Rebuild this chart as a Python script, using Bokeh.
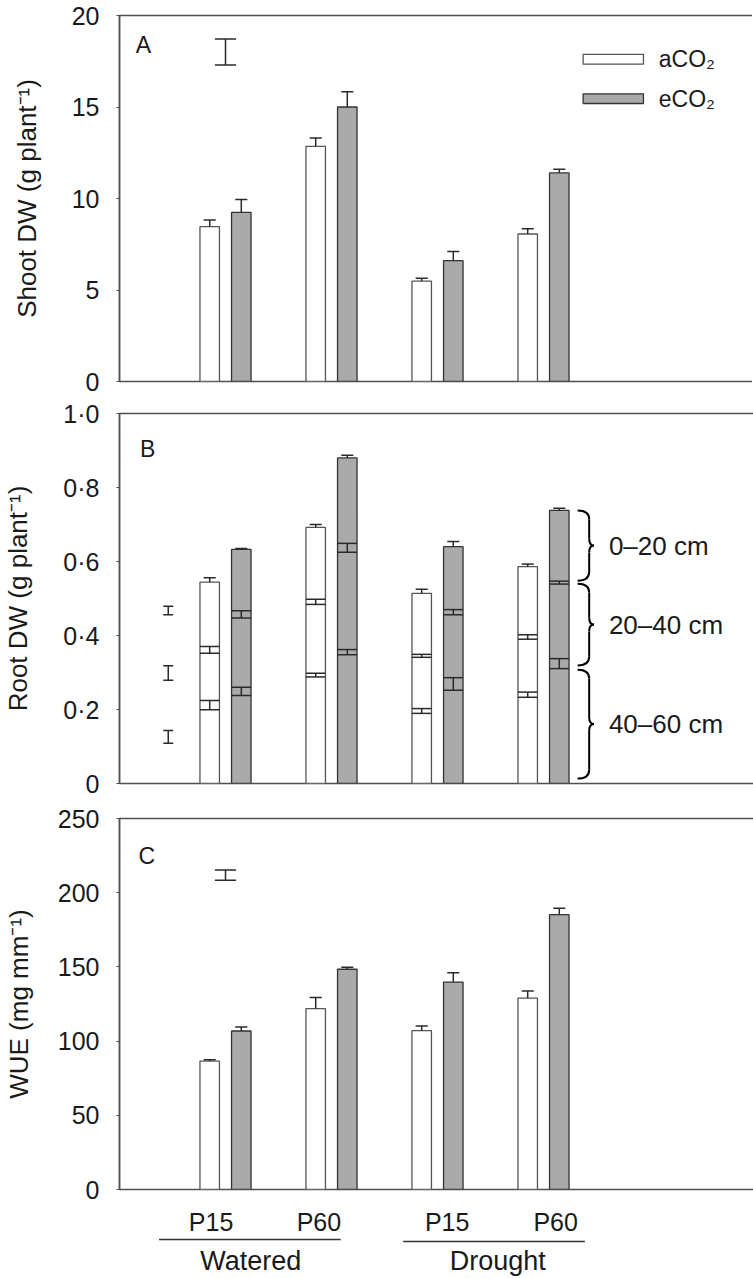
import numpy as np
from bokeh.plotting import figure
from bokeh.layouts import column
from bokeh.models import Range1d, FixedTicker, CustomJSTickFormatter
from bokeh.embed import file_html
from bokeh.resources import INLINE
from bokeh.core.properties import value

FONT = "Liberation Sans"
AXIS_COL = "#505050"
TEXT_COL = "#1a1a1a"
GRAY = "#aaaaaa"
ERR_COL = "#2a2a2a"

# ---------------- data ----------------
water_regime = ["Watered", "Drought"]
p_level = ["P15", "P60", "P15", "P60"]
co2_labels = ["aCO₂", "eCO₂"]

# Panel A: shoot dry weight (g plant-1)
shoot_a = [8.46, 12.85, 5.48, 8.06]
shoot_a_se = [0.36, 0.45, 0.16, 0.29]
shoot_e = [9.24, 15.00, 6.60, 11.40]
shoot_e_se = [0.71, 0.83, 0.50, 0.20]
shoot_lsd = 1.42

# Panel B: root dry weight by depth layer (g plant-1)
root_a_4060 = [0.212, 0.293, 0.196, 0.240]
root_a_2040 = [0.149, 0.198, 0.149, 0.156]
root_a_020 = [0.183, 0.201, 0.169, 0.190]
root_a_se_4060 = [0.0125, 0.005, 0.0065, 0.007]
root_a_se_2040 = [0.009, 0.007, 0.004, 0.006]
root_a_se_020 = [0.012, 0.008, 0.011, 0.007]
root_e_4060 = [0.249, 0.355, 0.269, 0.324]
root_e_2040 = [0.208, 0.282, 0.194, 0.219]
root_e_020 = [0.176, 0.243, 0.177, 0.195]
root_e_se_4060 = [0.011, 0.007, 0.017, 0.0135]
root_e_se_2040 = [0.010, 0.012, 0.007, 0.004]
root_e_se_020 = [0.002, 0.007, 0.014, 0.006]
root_lsd = [0.034, 0.039, 0.023]          # 40-60, 20-40, 0-20 cm
depth_labels = ["40–60 cm", "20–40 cm", "0–20 cm"]

# Panel C: water use efficiency (mg mm-1)
wue_a = [86.5, 121.9, 107.0, 129.0]
wue_a_se = [0.9, 7.4, 3.2, 4.7]
wue_e = [106.8, 148.4, 139.8, 185.2]
wue_e_se = [2.7, 1.3, 6.3, 4.3]
wue_lsd = 6.9

# ---------------- layout constants ----------------
UNIT = 106.0                 # px per group step
GX = np.arange(1, 5)         # group centres
OFF = 0.149
BW = 0.184
CAP = 0.057


def make_fig(frame_w, frame_h, y_end, left, right, top, bottom, x_range=None):
    xr = x_range if x_range is not None else Range1d(0, frame_w / UNIT)
    p = figure(frame_width=frame_w, frame_height=frame_h, x_range=xr,
               y_range=Range1d(0, y_end), min_border_left=left,
               min_border_right=right, min_border_top=top,
               min_border_bottom=bottom, output_backend="svg",
               toolbar_location=None)
    p.xaxis.visible = False
    p.xgrid.visible = False
    p.ygrid.visible = False
    p.outline_line_color = AXIS_COL
    p.outline_line_width = 1.5
    p.outline_line_alpha = 1.0
    p.background_fill_color = "white"
    p.border_fill_color = "white"
    return p


def style_y(p, ticks, label, standoff, formatter=None):
    ax = p.yaxis[0]
    ax.ticker = FixedTicker(ticks=ticks, minor_ticks=[])
    if formatter is not None:
        ax.formatter = formatter
    ax.axis_label = label
    ax.axis_label_text_font = FONT
    ax.axis_label_text_font_size = "26px"
    ax.axis_label_text_font_style = "normal"
    ax.axis_label_text_color = TEXT_COL
    ax.axis_label_standoff = standoff
    ax.major_label_text_font = FONT
    ax.major_label_text_font_size = "25px"
    ax.major_label_text_color = TEXT_COL
    ax.major_label_standoff = 17
    ax.axis_line_color = AXIS_COL
    ax.axis_line_width = 1.5
    ax.major_tick_line_color = AXIS_COL
    ax.major_tick_line_width = 1.2
    ax.major_tick_in = 0
    ax.major_tick_out = 3
    ax.minor_tick_line_color = None


def simple_bars(p, vals_a, se_a, vals_e, se_e):
    for vals, se, dx, fill, lc in ((vals_a, se_a, -OFF, "white", "#555555"),
                                   (vals_e, se_e, OFF, GRAY, "#333333")):
        x = GX + dx
        v = np.array(vals)
        s = np.array(se)
        p.vbar(x=x, width=BW, bottom=0, top=v, fill_color=fill,
               line_color=lc, line_width=1.3)
        p.segment(x0=x, y0=v, x1=x, y1=v + s, line_color=ERR_COL, line_width=1.5)
        p.segment(x0=x - CAP, y0=v + s, x1=x + CAP, y1=v + s,
                  line_color=ERR_COL, line_width=1.5)


def lsd_bar(p, x, yc, lsd, half_cap):
    x = np.atleast_1d(np.array(x, dtype=float))
    yc = np.atleast_1d(np.array(yc, dtype=float))
    h = np.atleast_1d(np.array(lsd, dtype=float)) / 2
    p.segment(x0=x, y0=yc - h, x1=x, y1=yc + h, line_color=ERR_COL, line_width=1.5)
    for sgn in (-1, 1):
        p.segment(x0=x - half_cap, y0=yc + sgn * h, x1=x + half_cap,
                  y1=yc + sgn * h, line_color=ERR_COL, line_width=1.5)


def panel_letter(p, x, y, letter):
    p.text(x=[x], y=[y], text=[letter], text_font=value(FONT),
           text_font_size="23px", text_color=TEXT_COL,
           text_align="left", text_baseline="middle")


# ---------------- Panel A ----------------
pA = make_fig(634, 366, 20, 117, 1, 15, 15)
style_y(pA, [0, 5, 10, 15, 20], "Shoot DW (g plant⁻¹)", 27)
simple_bars(pA, shoot_a, shoot_a_se, shoot_e, shoot_e_se)
lsd_bar(pA, 1.0, 18.01, shoot_lsd, 0.1)
panel_letter(pA, 0.154, 18.38, "A")
# legend
pA.quad(left=[4.374, 4.374], right=[4.943, 4.943], bottom=[17.34, 15.19],
        top=[17.88, 15.72], fill_color=["white", GRAY],
        line_color=["#555555", "#333333"], line_width=1.3)
pA.text(x=[5.088, 5.088], y=[17.61, 15.45], text=co2_labels,
        text_font=value(FONT), text_font_size="23px", text_color=TEXT_COL,
        text_align="left", text_baseline="middle")

# ---------------- Panel B ----------------
pB = make_fig(635, 370, 1.0, 113, 4, 17, 17)
style_y(pB, [0, 0.2, 0.4, 0.6, 0.8, 1.0], "Root DW (g plant⁻¹)", 27,
        CustomJSTickFormatter(code='return tick == 0 ? "0" : tick.toFixed(1).replace(".", "·");'))

for layers, ses, dx, fill, lc in (
        ((root_a_4060, root_a_2040, root_a_020),
         (root_a_se_4060, root_a_se_2040, root_a_se_020), -OFF, "white", "#555555"),
        ((root_e_4060, root_e_2040, root_e_020),
         (root_e_se_4060, root_e_se_2040, root_e_se_020), OFF, GRAY, "#333333")):
    x = GX + dx
    cum = np.cumsum(np.array(layers), axis=0)      # boundaries, bottom -> top
    se = np.array(ses)
    pB.vbar(x=x, width=BW, bottom=0, top=cum[-1], fill_color=fill,
            line_color=lc, line_width=1.3)
    # internal boundaries: full-width I-bars
    for i in range(2):
        c, s = cum[i], se[i]
        pB.segment(x0=x, y0=c - s, x1=x, y1=c + s, line_color=ERR_COL, line_width=1.5)
        for sgn in (-1, 1):
            pB.segment(x0=x - BW / 2, y0=c + sgn * s, x1=x + BW / 2, y1=c + sgn * s,
                       line_color=ERR_COL, line_width=1.5)
    c, s = cum[2], se[2]
    pB.segment(x0=x, y0=c, x1=x, y1=c + s, line_color=ERR_COL, line_width=1.5)
    pB.segment(x0=x - CAP, y0=c + s, x1=x + CAP, y1=c + s,
               line_color=ERR_COL, line_width=1.5)

lsd_bar(pB, [0.46, 0.46, 0.46], [0.126, 0.2985, 0.4675], root_lsd, 0.047)
panel_letter(pB, 0.194, 0.904, "B")

# depth braces
brace_lo = np.array([0.0135, 0.319, 0.548])
brace_hi = np.array([0.3075, 0.540, 0.738])
bx0, bxm, bxt = 4.322, 4.431, 4.476
r_end, r_tip = 0.024, 0.019
mid = (brace_lo + brace_hi) / 2
n = len(mid)
BR = dict(line_color="black", line_width=2.0)
pB.quadratic(x0=[bx0] * n, y0=brace_hi, x1=[bxm] * n, y1=brace_hi - r_end,
             cx=[bxm] * n, cy=brace_hi, **BR)
pB.segment(x0=[bxm] * n, y0=brace_hi - r_end, x1=[bxm] * n, y1=mid + r_tip, **BR)
pB.quadratic(x0=[bxm] * n, y0=mid + r_tip, x1=[bxt] * n, y1=mid,
             cx=[bxm] * n, cy=mid, **BR)
pB.quadratic(x0=[bxt] * n, y0=mid, x1=[bxm] * n, y1=mid - r_tip,
             cx=[bxm] * n, cy=mid, **BR)
pB.segment(x0=[bxm] * n, y0=mid - r_tip, x1=[bxm] * n, y1=brace_lo + r_end, **BR)
pB.quadratic(x0=[bxm] * n, y0=brace_lo + r_end, x1=[bx0] * n, y1=brace_lo,
             cx=[bxm] * n, cy=brace_lo, **BR)
pB.text(x=[4.617] * n, y=mid, text=depth_labels, text_font=value(FONT),
        text_font_size="26px", text_color=TEXT_COL, text_align="left",
        text_baseline="middle")

# ---------------- Panel C ----------------
pC = make_fig(635, 371, 250, 113, 4, 18, 15)
style_y(pC, [0, 50, 100, 150, 200, 250], "WUE (mg mm⁻¹)", 21)
simple_bars(pC, wue_a, wue_a_se, wue_e, wue_e_se)
lsd_bar(pC, 1.0, 211.85, wue_lsd, 0.1)
panel_letter(pC, 0.18, 224.6, "C")

# ---------------- category labels below C ----------------
pD = make_fig(635, 72, 72, 113, 4, 0, 0, x_range=pC.x_range)
pD.yaxis.visible = False
pD.outline_line_color = None
label_shift = np.array([-0.136, -0.119, 0.091, 0.115])
pD.text(x=GX + label_shift, y=[55] * 4, text=p_level, text_font=value(FONT),
        text_font_size="25px", text_color=TEXT_COL, text_align="center",
        text_baseline="middle")
grp_c = np.array([1.23, 3.533])
pD.segment(x0=grp_c - 0.857, y0=[37, 35], x1=grp_c + 0.857, y1=[37, 35],
           line_color="#333333", line_width=1.3)
pD.text(x=grp_c + np.array([0.009, 0.036]), y=[16, 16], text=water_regime,
        text_font=value(FONT), text_font_size="27px", text_color=TEXT_COL,
        text_align="center", text_baseline="middle")

layout = column(pA, pB, pC, pD, spacing=0)
open("out.html", "w").write(file_html(layout, INLINE))
